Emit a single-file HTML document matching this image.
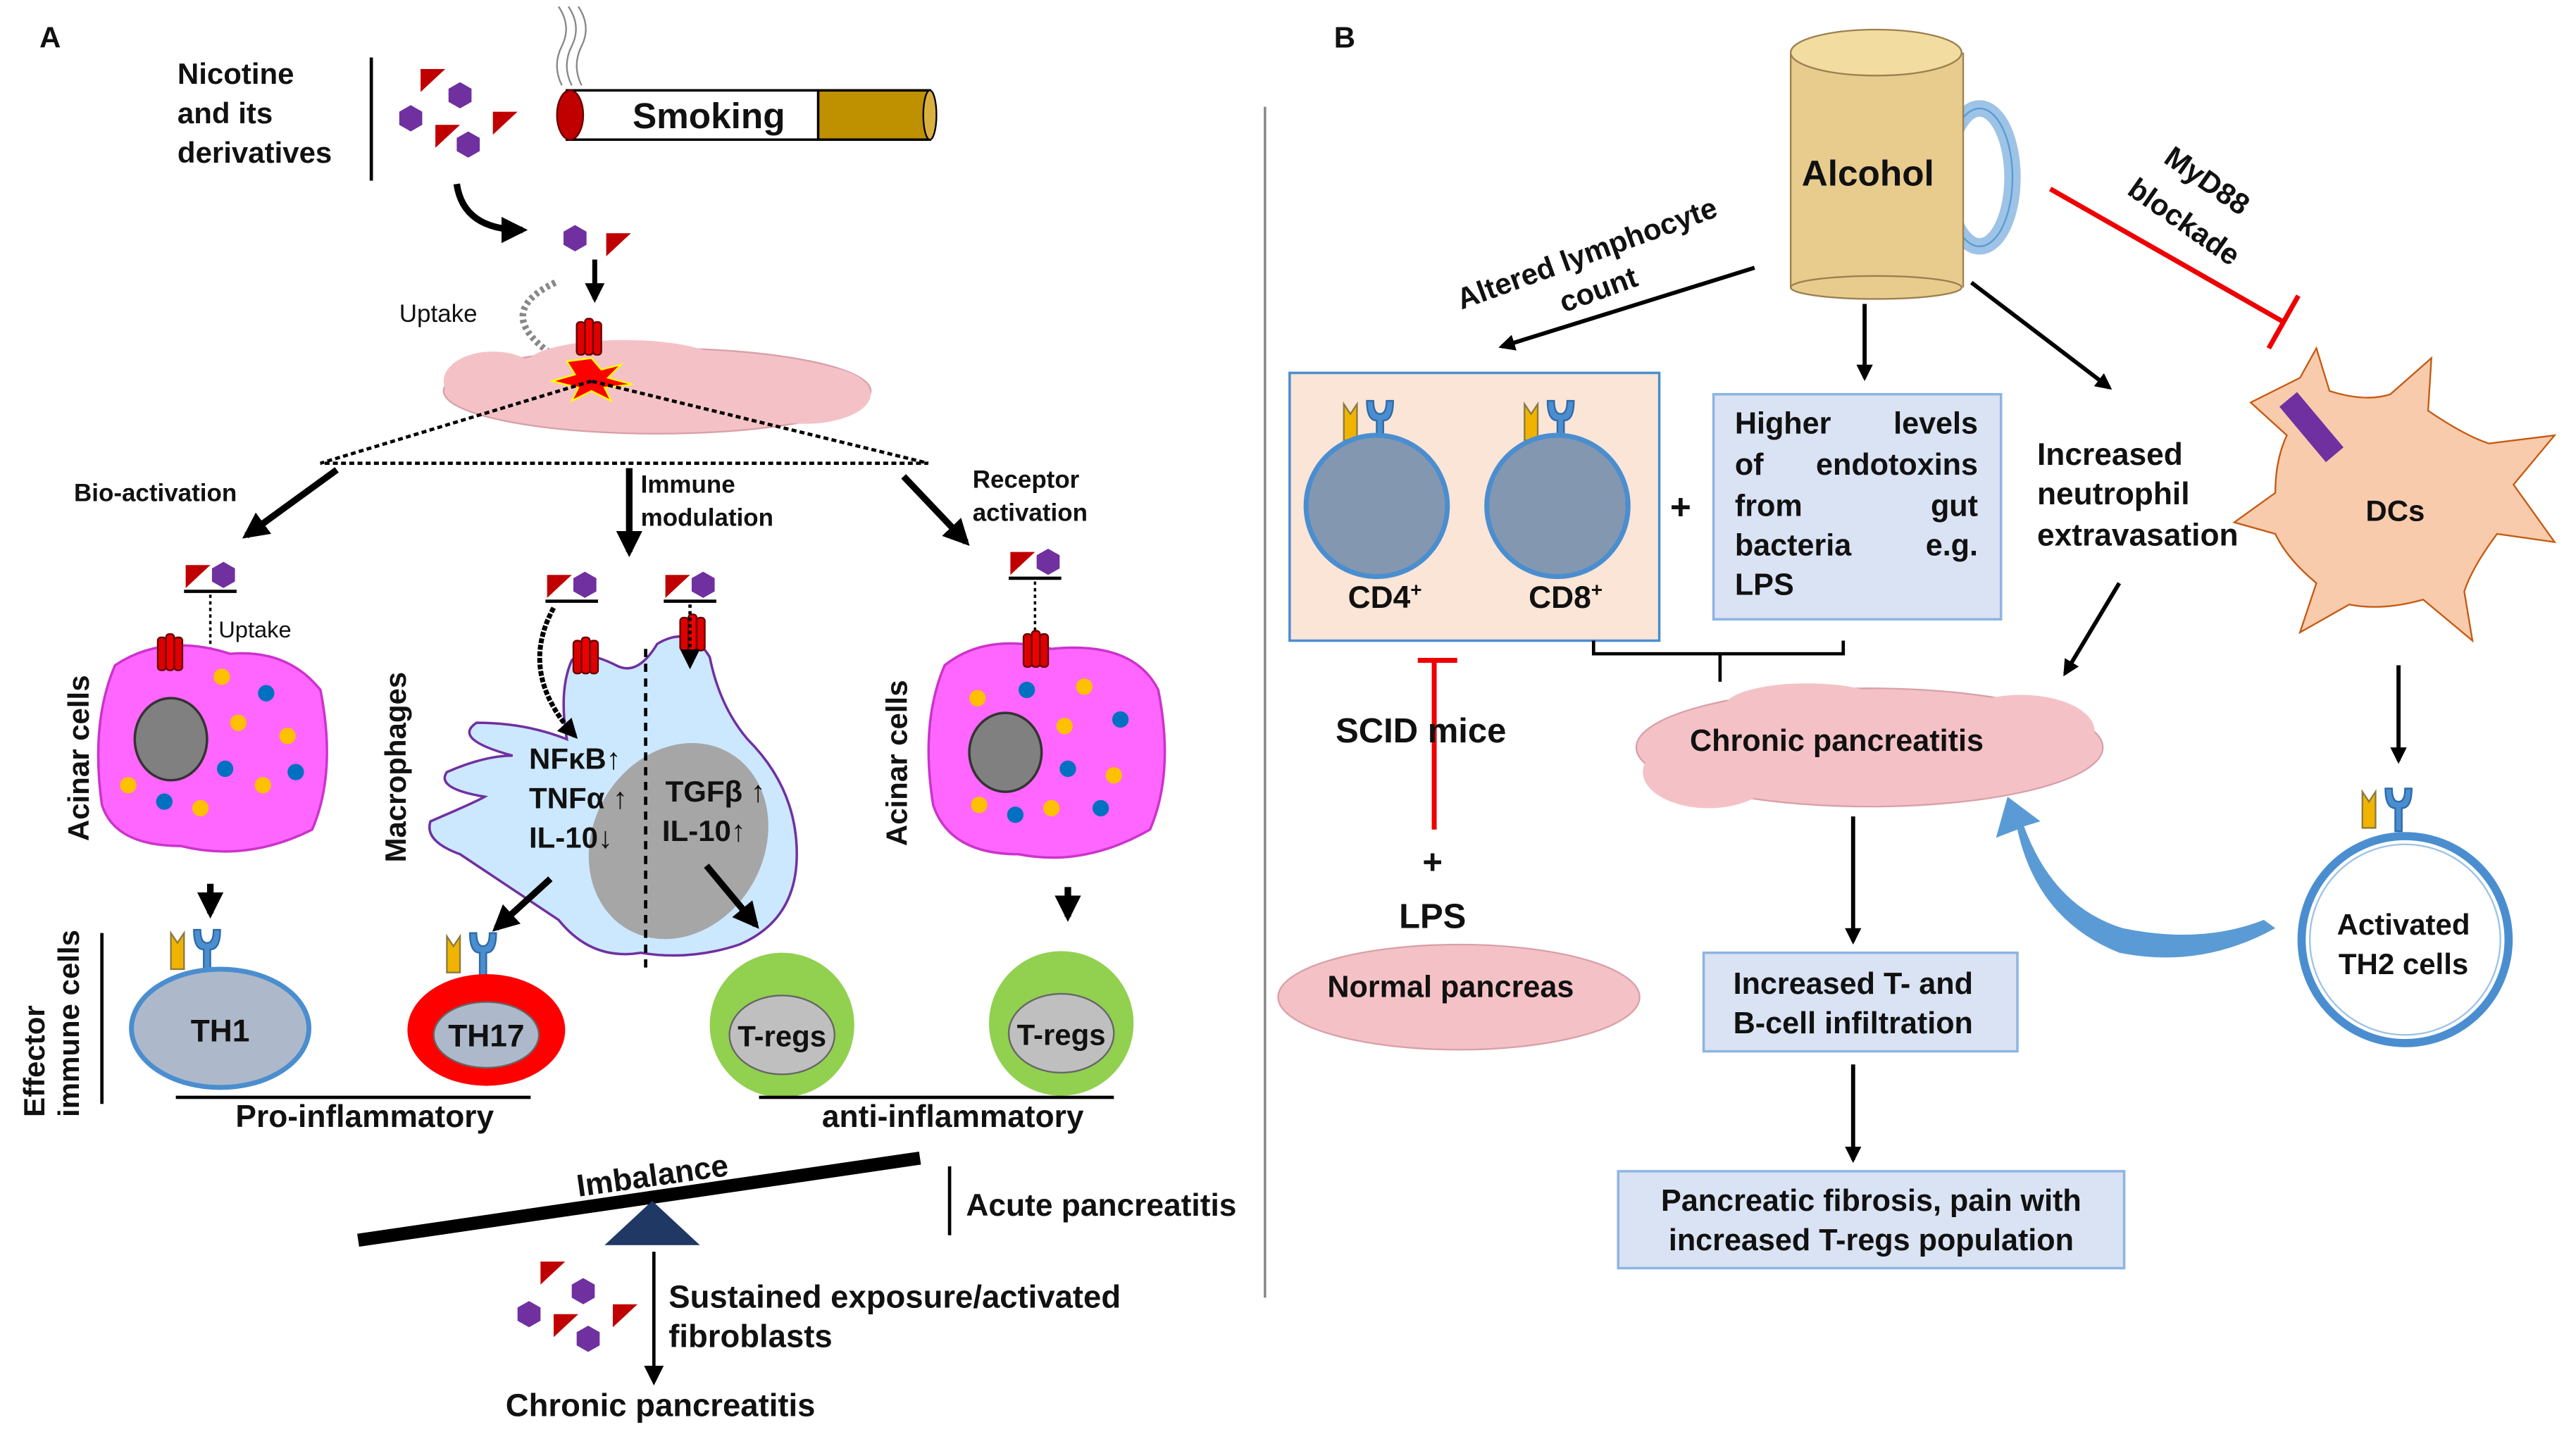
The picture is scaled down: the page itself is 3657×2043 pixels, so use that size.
<!DOCTYPE html>
<html><head><meta charset="utf-8"><style>
html,body{margin:0;padding:0;background:#fff}
svg{display:block}
text{font-family:"Liberation Sans",Arial,sans-serif;font-weight:bold;fill:#111}
</style></head><body>
<svg width="3657" height="2043" viewBox="0 0 1568 876" xmlns="http://www.w3.org/2000/svg">
<defs>
<marker id="ah" viewBox="0 0 10 10" refX="8" refY="5" markerWidth="4" markerHeight="4" orient="auto"><path d="M0,0 L10,5 L0,10 z" fill="#000"/></marker>
<marker id="ahs" viewBox="0 0 10 10" refX="8" refY="5" markerWidth="6" markerHeight="6" orient="auto"><path d="M0,0 L10,5 L0,10 z" fill="#000"/></marker>
<g id="hex"><polygon points="-7,-4 0,-8 7,-4 7,4 0,8 -7,4" fill="#7030a0"/></g>
<g id="tri"><polygon points="-7,-6 8,-6 -7,8" fill="#c00000"/></g>
<g id="rec"><rect x="-7" y="-10" width="5" height="20" rx="2" fill="#d00" stroke="#600" stroke-width="1"/><rect x="-2" y="-12" width="5" height="22" rx="2" fill="#e00" stroke="#600" stroke-width="1"/><rect x="3" y="-10" width="5" height="20" rx="2" fill="#d00" stroke="#600" stroke-width="1"/></g>
<g id="pair"><use href="#tri" x="-8" y="0"/><use href="#hex" x="8" y="0"/><line x1="-16" y1="10" x2="16" y2="10" stroke="#000" stroke-width="2"/></g>
<g id="ab"><path d="M-14,-10 L-14,12 L-6,12 L-6,-10 L-10,-4 z" fill="#f0b400" stroke="#8a7a40" stroke-width="1"/><path d="M0,-12 Q0,0 6,0 L6,14 L10,14 L10,0 Q16,0 16,-12 L12,-12 Q12,-4 8,-4 Q4,-4 4,-12 z" fill="#4a8ed0" stroke="#2d6aa8" stroke-width="1"/></g>
</defs>

<!-- Panel A -->
<text x="24" y="29" font-size="18">A</text>
<text x="108" y="51" font-size="18">Nicotine</text>
<text x="108" y="75" font-size="18">and its</text>
<text x="108" y="99" font-size="18">derivatives</text>
<line x1="226" y1="35" x2="226" y2="110" stroke="#000" stroke-width="2"/>
<use href="#tri" x="263" y="48"/><use href="#hex" x="280" y="58"/><use href="#hex" x="250" y="72"/><use href="#tri" x="307" y="74"/><use href="#tri" x="272" y="82"/><use href="#hex" x="285" y="88"/>
<rect x="345" y="55" width="155" height="30" fill="#fff" stroke="#000" stroke-width="1.5"/>
<rect x="498" y="55" width="68" height="30" fill="#bf9000" stroke="#000" stroke-width="1.5"/>
<ellipse cx="566" cy="70" rx="4" ry="15" fill="#d9b040" stroke="#000"/>
<ellipse cx="347" cy="70" rx="8" ry="15" fill="#c00000" stroke="#600"/>
<path d="M342,52 Q336,40 342,28 Q348,16 340,4 M348,52 Q342,40 348,28 Q354,16 346,4 M354,52 Q348,40 354,28 Q360,16 352,4" stroke="#888" fill="none" stroke-width="1"/>
<text x="385" y="78" font-size="22">Smoking</text>
<path d="M278,112 Q282,140 318,140" stroke="#000" stroke-width="4" fill="none" marker-end="url(#ah)"/>
<use href="#hex" x="350" y="145"/><use href="#tri" x="376" y="148"/>
<line x1="362" y1="158" x2="362" y2="182" stroke="#000" stroke-width="3" marker-end="url(#ah)"/>
<text x="243" y="196" font-size="15" style="font-weight:normal">Uptake</text>
<path d="M338,172 Q300,190 335,215" stroke="#888" stroke-width="4" stroke-dasharray="2,2" fill="none"/>
<g fill="#f4c2c6" stroke="#d9a0a8" stroke-width="1"><ellipse cx="400" cy="238" rx="130" ry="26"/></g>
<g fill="#f4c2c6"><ellipse cx="300" cy="232" rx="30" ry="18"/><ellipse cx="490" cy="240" rx="40" ry="18"/><ellipse cx="380" cy="222" rx="60" ry="15"/></g>
<polygon points="360,218 366,225 378,222 370,230 385,234 368,236 372,244 360,238 348,244 352,236 336,232 350,228 345,220" fill="#f00" stroke="#ff0" stroke-width="1"/>
<use href="#rec" x="358" y="206"/>
<path d="M360,232 L195,282 L565,282 Z" fill="none" stroke="#000" stroke-width="2" stroke-dasharray="3,2"/>
<text x="45" y="305" font-size="15">Bio-activation</text>
<line x1="205" y1="286" x2="150" y2="326" stroke="#000" stroke-width="4" marker-end="url(#ah)"/>
<text x="390" y="300" font-size="15">Immune</text>
<text x="390" y="320" font-size="15">modulation</text>
<line x1="383" y1="285" x2="383" y2="336" stroke="#000" stroke-width="4" marker-end="url(#ah)"/>
<text x="592" y="297" font-size="15">Receptor</text>
<text x="592" y="317" font-size="15">activation</text>
<line x1="550" y1="290" x2="588" y2="330" stroke="#000" stroke-width="4" marker-end="url(#ah)"/>

<use href="#pair" x="128" y="350"/>
<line x1="128" y1="362" x2="128" y2="428" stroke="#000" stroke-width="1.5" stroke-dasharray="2,2" marker-end="url(#ahs)"/>
<text x="133" y="388" font-size="14" style="font-weight:normal">Uptake</text>
<path d="M70,405 Q100,385 140,398 Q175,395 195,420 Q205,470 190,505 Q150,525 110,515 Q70,515 62,490 Q55,440 70,405 z" fill="#ff66ff" stroke="#cc33cc" stroke-width="1.5"/>
<use href="#rec" x="103" y="398"/>
<ellipse cx="104" cy="450" rx="22" ry="25" fill="#808080" stroke="#333" stroke-width="1.5"/>
<g><circle cx="135" cy="412" r="5" fill="#ffc000"/><circle cx="162" cy="422" r="5" fill="#0070c0"/><circle cx="145" cy="440" r="5" fill="#ffc000"/><circle cx="175" cy="448" r="5" fill="#ffc000"/><circle cx="137" cy="468" r="5" fill="#0070c0"/><circle cx="160" cy="478" r="5" fill="#ffc000"/><circle cx="100" cy="488" r="5" fill="#0070c0"/><circle cx="122" cy="492" r="5" fill="#ffc000"/><circle cx="78" cy="478" r="5" fill="#ffc000"/><circle cx="180" cy="470" r="5" fill="#0070c0"/></g>
<text transform="translate(54,512) rotate(-90)" font-size="18">Acinar cells</text>
<line x1="128" y1="538" x2="128" y2="556" stroke="#000" stroke-width="4" marker-end="url(#ah)"/>

<text transform="translate(27,680) rotate(-90)" font-size="18">Effector</text>
<text transform="translate(48,680) rotate(-90)" font-size="18">immune cells</text>
<line x1="62" y1="568" x2="62" y2="672" stroke="#000" stroke-width="2"/>
<use href="#ab" x="118" y="578"/>
<ellipse cx="134" cy="626" rx="54" ry="36" fill="#adb9ca" stroke="#4a8ed0" stroke-width="3"/>
<text x="134" y="634" font-size="19" text-anchor="middle">TH1</text>
<use href="#ab" x="286" y="580"/>
<ellipse cx="296" cy="627" rx="48" ry="34" fill="#f00"/>
<ellipse cx="296" cy="630" rx="32" ry="20" fill="#adb9ca" stroke="#666"/>
<text x="296" y="637" font-size="19" text-anchor="middle">TH17</text>

<text transform="translate(247,525) rotate(-90)" font-size="18">Macrophages</text>
<path d="M348,402 Q355,395 375,405 Q388,412 400,392 Q420,380 432,400 Q438,430 455,450 Q485,480 485,520 Q485,560 450,575 Q420,585 390,580 Q360,585 340,560 Q310,540 280,520 Q258,512 262,500 Q290,488 295,485 Q265,480 272,470 Q295,460 312,460 Q275,450 290,440 Q320,440 345,450 Q340,420 348,402 z" fill="#cce8ff" stroke="#7030a0" stroke-width="1.5"/>
<ellipse cx="413" cy="512" rx="52" ry="62" transform="rotate(30 413 512)" fill="#a6a6a6"/>
<line x1="393" y1="395" x2="393" y2="592" stroke="#000" stroke-width="2" stroke-dasharray="5,4"/>
<use href="#pair" x="348" y="356"/><use href="#pair" x="420" y="356"/>
<use href="#rec" x="356" y="400"/><use href="#rec" x="421" y="386"/>
<line x1="420" y1="368" x2="420" y2="405" stroke="#000" stroke-width="2" stroke-dasharray="2,2" marker-end="url(#ahs)"/>
<path d="M337,370 Q315,410 350,448" stroke="#000" stroke-width="3" stroke-dasharray="3,1" fill="none" marker-end="url(#ah)"/>
<text x="322" y="468" font-size="18">NFκB↑</text>
<text x="322" y="492" font-size="18">TNFα ↑</text>
<text x="322" y="516" font-size="18">IL-10↓</text>
<text x="405" y="488" font-size="18">TGFβ ↑</text>
<text x="403" y="512" font-size="18">IL-10↑</text>
<line x1="335" y1="535" x2="302" y2="565" stroke="#000" stroke-width="4" marker-end="url(#ah)"/>
<line x1="430" y1="527" x2="460" y2="563" stroke="#000" stroke-width="4" marker-end="url(#ah)"/>

<circle cx="476" cy="624" r="44" fill="#92d050"/>
<ellipse cx="476" cy="630" rx="32" ry="24" fill="#bfbfbf" stroke="#666"/>
<text x="476" y="637" font-size="18" text-anchor="middle">T-regs</text>
<circle cx="646" cy="623" r="44" fill="#92d050"/>
<ellipse cx="646" cy="629" rx="32" ry="24" fill="#bfbfbf" stroke="#666"/>
<text x="646" y="636" font-size="18" text-anchor="middle">T-regs</text>

<use href="#pair" x="630" y="342"/>
<line x1="630" y1="354" x2="630" y2="410" stroke="#000" stroke-width="1.5" stroke-dasharray="2,2" marker-end="url(#ahs)"/>
<path d="M575,405 Q600,385 640,395 Q690,390 705,420 Q715,470 700,505 Q660,528 620,520 Q578,520 568,490 Q560,440 575,405 z" fill="#ff66ff" stroke="#cc33cc" stroke-width="1.5"/>
<use href="#rec" x="630" y="396"/>
<ellipse cx="612" cy="458" rx="22" ry="24" fill="#808080" stroke="#333" stroke-width="1.5"/>
<g><circle cx="595" cy="425" r="5" fill="#ffc000"/><circle cx="625" cy="420" r="5" fill="#0070c0"/><circle cx="660" cy="418" r="5" fill="#ffc000"/><circle cx="648" cy="442" r="5" fill="#ffc000"/><circle cx="682" cy="438" r="5" fill="#0070c0"/><circle cx="650" cy="468" r="5" fill="#0070c0"/><circle cx="678" cy="472" r="5" fill="#ffc000"/><circle cx="596" cy="490" r="5" fill="#ffc000"/><circle cx="618" cy="496" r="5" fill="#0070c0"/><circle cx="640" cy="492" r="5" fill="#ffc000"/><circle cx="670" cy="492" r="5" fill="#0070c0"/></g>
<text transform="translate(552,515) rotate(-90)" font-size="18">Acinar cells</text>
<line x1="650" y1="540" x2="650" y2="558" stroke="#000" stroke-width="4" marker-end="url(#ah)"/>

<line x1="107" y1="668" x2="323" y2="668" stroke="#000" stroke-width="2"/>
<text x="222" y="686" font-size="19" text-anchor="middle">Pro-inflammatory</text>
<line x1="462" y1="668" x2="678" y2="668" stroke="#000" stroke-width="2"/>
<text x="580" y="686" font-size="19" text-anchor="middle">anti-inflammatory</text>

<line x1="218" y1="755" x2="560" y2="705" stroke="#000" stroke-width="8"/>
<polygon points="397,731 368,758 426,758" fill="#1f3864"/>
<text transform="translate(398,722) rotate(-8)" font-size="19" text-anchor="middle">Imbalance</text>
<line x1="578" y1="710" x2="578" y2="752" stroke="#000" stroke-width="2"/>
<text x="588" y="740" font-size="19">Acute pancreatitis</text>
<use href="#tri" x="336" y="774"/><use href="#hex" x="355" y="786"/><use href="#hex" x="322" y="800"/><use href="#tri" x="344" y="806"/><use href="#tri" x="380" y="800"/><use href="#hex" x="358" y="815"/>
<line x1="398" y1="762" x2="398" y2="841" stroke="#000" stroke-width="2" marker-end="url(#ahs)"/>
<text x="407" y="796" font-size="19.5">Sustained exposure/activated</text>
<text x="407" y="820" font-size="19.5">fibroblasts</text>
<text x="402" y="862" font-size="19.5" text-anchor="middle">Chronic pancreatitis</text>

<line x1="770" y1="65" x2="770" y2="790" stroke="#888" stroke-width="1.5"/>

<!-- Panel B -->
<text x="812" y="29" font-size="18">B</text>
<ellipse cx="1205" cy="108" rx="20" ry="42" fill="none" stroke="#9dc3e6" stroke-width="10"/>
<ellipse cx="1205" cy="108" rx="20" ry="42" fill="none" stroke="#5b9bd5" stroke-width="1"/>
<rect x="1090" y="32" width="105" height="143" fill="#e8cc8e"/>
<ellipse cx="1142" cy="175" rx="52" ry="7" fill="#e8cc8e" stroke="#9c8050"/>
<ellipse cx="1142" cy="32" rx="52" ry="14" fill="#f2dca0" stroke="#9c8050"/>
<line x1="1090" y1="32" x2="1090" y2="175" stroke="#9c8050"/><line x1="1195" y1="32" x2="1195" y2="175" stroke="#9c8050"/>
<text x="1137" y="113" font-size="22" text-anchor="middle">Alcohol</text>
<text transform="translate(1340,115) rotate(35)" font-size="18" text-anchor="middle">MyD88</text>
<text transform="translate(1326,140) rotate(35)" font-size="18" text-anchor="middle">blockade</text>
<line x1="1248" y1="115" x2="1390" y2="196" stroke="#e00" stroke-width="3"/>
<line x1="1381" y1="212" x2="1399" y2="180" stroke="#e00" stroke-width="3"/>
<path d="M1400,230 L1410,212 L1418,238 Q1440,245 1455,240 L1480,218 L1478,250 Q1500,265 1515,270 L1555,265 L1530,295 L1555,330 L1520,325 Q1505,345 1500,360 L1505,390 L1475,365 Q1450,372 1430,368 L1400,385 L1410,355 Q1392,340 1385,325 L1360,318 L1385,300 Q1385,280 1392,265 L1370,245 Z" fill="#f8cbad" stroke="#c55a11" stroke-width="1"/>
<rect x="1400" y="238" width="14" height="44" fill="#7030a0" transform="rotate(-40 1407 260)"/>
<text x="1458" y="317" font-size="18" text-anchor="middle">DCs</text>
<line x1="1460" y1="405" x2="1460" y2="463" stroke="#000" stroke-width="2.5" marker-end="url(#ah)"/>
<use href="#ab" x="1452" y="492"/>
<circle cx="1464" cy="572" r="63" fill="#fff" stroke="#4a8ed0" stroke-width="5"/>
<circle cx="1464" cy="572" r="58" fill="#fff" stroke="#9dc3e6" stroke-width="1"/>
<text x="1463" y="569" font-size="18" text-anchor="middle">Activated</text>
<text x="1463" y="593" font-size="18" text-anchor="middle">TH2 cells</text>
<path d="M1385,565 Q1340,590 1290,580 Q1240,560 1228,505 L1215,510 L1222,485 L1242,500 L1232,503 Q1250,552 1292,565 Q1340,575 1378,560 Z" fill="#5b9bd5"/>

<text transform="translate(968,160) rotate(-20)" font-size="18" text-anchor="middle">Altered lymphocyte</text>
<text transform="translate(975,182) rotate(-20)" font-size="18" text-anchor="middle">count</text>
<line x1="1068" y1="163" x2="914" y2="211" stroke="#000" stroke-width="2.5" marker-end="url(#ah)"/>
<line x1="1135" y1="185" x2="1135" y2="230" stroke="#000" stroke-width="2.5" marker-end="url(#ah)"/>
<line x1="1200" y1="172" x2="1284" y2="236" stroke="#000" stroke-width="2.5" marker-end="url(#ah)"/>

<rect x="785" y="227" width="225" height="163" fill="#fbe5d6" stroke="#4a8ed0" stroke-width="1.5"/>
<use href="#ab" x="832" y="256"/><use href="#ab" x="942" y="256"/>
<circle cx="838" cy="308" r="43" fill="#8497b0" stroke="#4a8ed0" stroke-width="3"/>
<circle cx="948" cy="308" r="43" fill="#8497b0" stroke="#4a8ed0" stroke-width="3"/>
<text x="843" y="370" font-size="19" text-anchor="middle">CD4<tspan font-size="12" dy="-7">+</tspan></text>
<text x="953" y="370" font-size="19" text-anchor="middle">CD8<tspan font-size="12" dy="-7">+</tspan></text>
<text x="1023" y="316" font-size="22" text-anchor="middle">+</text>
<rect x="1043" y="240" width="175" height="137" fill="#dae3f3" stroke="#8eb4e3" stroke-width="1.5"/>
<g font-size="18.5">
<text x="1056" y="264">Higher</text><text x="1204" y="264" text-anchor="end">levels</text>
<text x="1056" y="289">of</text><text x="1204" y="289" text-anchor="end">endotoxins</text>
<text x="1056" y="314">from</text><text x="1204" y="314" text-anchor="end">gut</text>
<text x="1056" y="338">bacteria</text><text x="1204" y="338" text-anchor="end">e.g.</text>
<text x="1056" y="362">LPS</text></g>
<text x="1240" y="283" font-size="19">Increased</text>
<text x="1240" y="307" font-size="19">neutrophil</text>
<text x="1240" y="332" font-size="19">extravasation</text>
<line x1="1290" y1="355" x2="1257" y2="410" stroke="#000" stroke-width="2.5" marker-end="url(#ah)"/>
<path d="M970,390 L970,398 L1122,398 L1122,390 M1047,398 L1047,415" stroke="#000" stroke-width="2" fill="none"/>

<g fill="#f4c2c6" stroke="#d9a0a8"><ellipse cx="1138" cy="455" rx="142" ry="36"/></g>
<g fill="#f4c2c6"><ellipse cx="1040" cy="470" rx="40" ry="22"/><ellipse cx="1230" cy="445" rx="45" ry="22"/><ellipse cx="1100" cy="430" rx="50" ry="14"/></g>
<text x="1118" y="457" font-size="18.5" text-anchor="middle">Chronic pancreatitis</text>

<line x1="873" y1="403" x2="873" y2="505" stroke="#e00" stroke-width="3"/>
<line x1="863" y1="402" x2="887" y2="402" stroke="#e00" stroke-width="3"/>
<text x="813" y="452" font-size="21">SCID mice</text>
<text x="872" y="532" font-size="21" text-anchor="middle">+</text>
<text x="872" y="565" font-size="21" text-anchor="middle">LPS</text>
<g fill="#f4c2c6" stroke="#d9a0a8"><ellipse cx="888" cy="607" rx="110" ry="32"/></g>
<text x="883" y="607" font-size="18.5" text-anchor="middle">Normal pancreas</text>

<line x1="1128" y1="497" x2="1128" y2="573" stroke="#000" stroke-width="2.5" marker-end="url(#ah)"/>
<rect x="1037" y="580" width="191" height="60" fill="#dae3f3" stroke="#8eb4e3" stroke-width="1.5"/>
<text x="1128" y="605" font-size="18.5" text-anchor="middle">Increased T- and</text>
<text x="1128" y="629" font-size="18.5" text-anchor="middle">B-cell infiltration</text>
<line x1="1128" y1="648" x2="1128" y2="706" stroke="#000" stroke-width="2.5" marker-end="url(#ah)"/>
<rect x="985" y="713" width="308" height="59" fill="#dae3f3" stroke="#8eb4e3" stroke-width="1.5"/>
<text x="1139" y="737" font-size="18.5" text-anchor="middle">Pancreatic fibrosis, pain with</text>
<text x="1139" y="761" font-size="18.5" text-anchor="middle">increased T-regs population</text>
</svg>
</body></html>
